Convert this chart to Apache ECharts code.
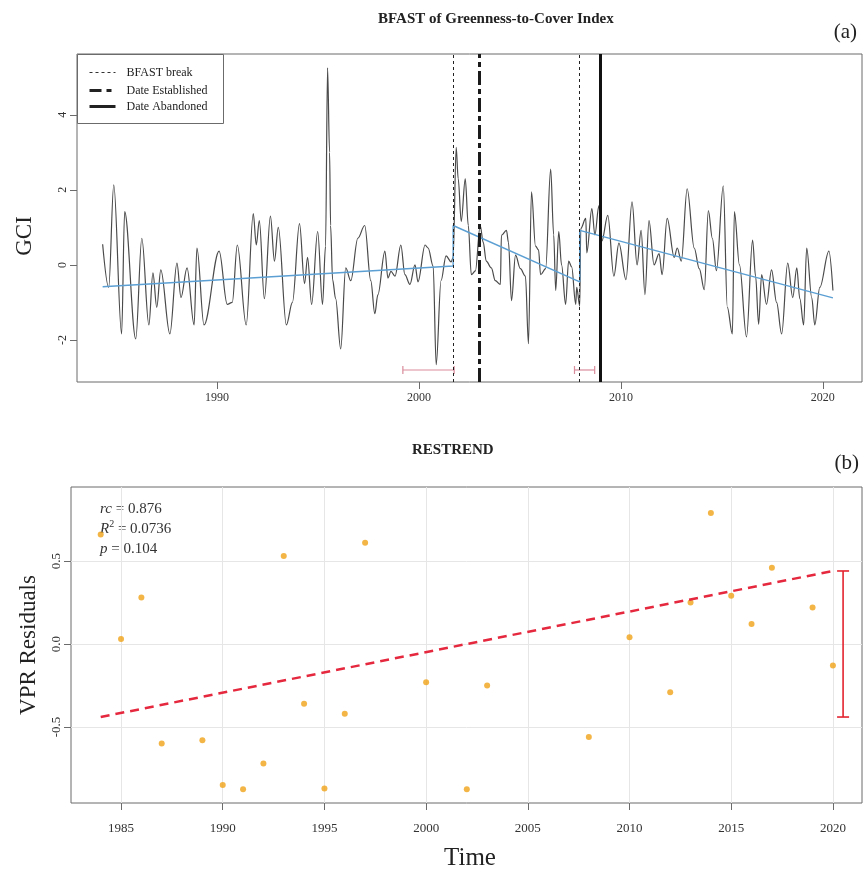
<!DOCTYPE html>
<html>
<head>
<meta charset="utf-8">
<script src="https://cdn.jsdelivr.net/npm/echarts@6/dist/echarts.min.js"></script>
<style>
  html, body { margin: 0; padding: 0; background: #ffffff; }
  #chart { width: 867px; height: 874px; }
</style>
</head>
<body>
<div id="chart"></div>
<script>
// ---- (a) BFAST of the Greenness-to-Cover Index ----
const gciTime = [
  1984.33, 1984.63, 1984.88, 1985.27, 1985.42, 1985.97, 1986.27, 1986.62, 1986.82, 1987.01,
  1987.21, 1987.66, 1988.01, 1988.21, 1988.51, 1988.86, 1989.00, 1989.35, 1990.10, 1990.50,
  1990.75, 1991.00, 1991.44, 1991.79, 1991.94, 1992.09, 1992.34, 1992.64, 1992.84, 1993.03,
  1993.43, 1993.73, 1994.08, 1994.33, 1994.48, 1994.68, 1994.98, 1995.22, 1995.37, 1995.47,
  1995.57, 1995.62, 1995.72, 1995.87, 1996.12, 1996.37, 1996.62, 1996.97, 1997.31, 1997.61,
  1997.81, 1997.96, 1998.31, 1998.46, 1998.61, 1998.81, 1999.10, 1999.30, 1999.55, 1999.80,
  1999.95, 2000.30, 2000.45, 2000.70, 2000.85, 2001.09, 2001.34, 2001.59, 2001.69, 2001.84,
  2001.94, 2002.09, 2002.29, 2002.44, 2002.59, 2002.79, 2003.03, 2003.18, 2003.33, 2003.58,
  2003.78, 2004.03, 2004.08, 2004.33, 2004.43, 2004.58, 2004.78, 2005.02, 2005.27, 2005.42,
  2005.57, 2005.77, 2005.92, 2006.02, 2006.27, 2006.52, 2006.67, 2006.77, 2006.92, 2007.06,
  2007.26, 2007.41, 2007.56, 2007.76, 2007.81, 2007.96, 2008.01, 2008.26, 2008.31, 2008.56,
  2008.71, 2008.91, 2009.05, 2009.35, 2009.65, 2009.90, 2010.25, 2010.55, 2010.80, 2011.00,
  2011.19, 2011.39, 2011.64, 2011.89, 2012.04, 2012.29, 2012.64, 2012.79, 2012.99, 2013.28,
  2013.63, 2013.88, 2014.13, 2014.33, 2014.53, 2014.73, 2015.07, 2015.27, 2015.52, 2015.62,
  2015.87, 2016.22, 2016.52, 2016.67, 2016.82, 2016.97, 2017.21, 2017.46, 2017.71, 2017.96,
  2018.26, 2018.51, 2018.71, 2018.86, 2019.05, 2019.20, 2019.45, 2019.60, 2019.85, 2020.30,
  2020.50
];
const gciValue = [
  0.55, -0.60, 2.13, -1.84, 1.42, -1.97, 0.71, -1.60, -0.21, -1.13,
  -0.13, -1.84, 0.05, -0.87, -0.08, -1.60, 0.45, -1.60, 0.37, -1.05,
  -1.00, 0.53, -1.60, 1.37, 0.53, 1.18, -0.90, 1.30, 0.10, 1.00,
  -1.60, -1.00, 1.10, -0.50, 0.20, -1.05, 0.89, -1.05, 0.50, 5.25,
  3.00, 1.05, -0.40, -0.90, -2.24, -0.08, -0.42, 0.71, 1.05, -0.42,
  -1.30, -0.80, 0.37, -0.35, -0.17, -0.30, 0.53, -0.26, -0.52, 0.00,
  -0.45, 0.53, 0.45, -0.03, -2.66, -0.42, 0.24, 0.08, 0.20, 3.13,
  2.30, 1.16, 2.29, 1.05, -0.26, -0.16, 1.05, 0.60, 0.10, -0.08,
  -0.42, -0.52, 0.79, 0.92, 0.60, -0.95, 0.26, -0.10, -0.30, -2.10,
  1.95, 0.50, 0.40, -0.26, -0.10, 2.55, 0.80, -0.68, 0.89, 0.00,
  -1.05, 0.10, -0.05, -1.05, -0.60, -1.10, 0.97, 1.24, 0.32, 1.50,
  0.80, 1.58, 0.63, 1.32, -0.30, 0.58, -0.39, 1.68, 0.00, 0.92,
  -0.79, 1.18, 0.00, 0.30, -0.26, 1.24, 0.20, 0.45, 0.10, 2.03,
  0.45, -0.10, -0.66, 1.45, 0.70, -0.15, 2.11, -1.13, -1.84, 1.42,
  0.00, -1.92, 0.66, -0.30, -1.58, -0.26, -1.05, -0.13, -1.00, -1.84,
  0.05, -0.87, -0.08, -0.90, -1.60, 0.45, -0.87, -1.60, -0.60, 0.37,
  -0.68
];
// piecewise trend fitted by BFAST (jumps at the two breaks)
const trendTime  = [1984.33, 2001.69, 2001.69, 2007.96, 2007.96, 2020.50];
const trendValue = [-0.58, -0.03, 1.05, -0.45, 0.92, -0.88];
const breakDates = [2001.69, 2007.96];
const breakLower = [1999.20, 2007.70];
const breakUpper = [2001.74, 2008.70];
const breakBandLevel = -2.80;
const dateEstablished = 2003.0;
const dateAbandoned = 2009.0;
const gciYTicks = [-2, 0, 2, 4];
const gciXTicks = [1990, 2000, 2010, 2020];

// ---- (b) RESTREND residuals ----
const residualYears = [
  1984, 1985, 1986, 1987, 1989, 1990, 1991, 1992, 1993, 1994, 1995, 1996, 1997,
  2000, 2002, 2003, 2008, 2010, 2012, 2013, 2014, 2015, 2016, 2017, 2019, 2020
];
const residualValues = [
  0.66, 0.03, 0.28, -0.60, -0.58, -0.85, -0.875, -0.72, 0.53, -0.36, -0.87, -0.42, 0.61,
  -0.23, -0.875, -0.25, -0.56, 0.04, -0.29, 0.25, 0.79, 0.29, 0.12, 0.46, 0.22, -0.13
];
const fitYears  = [1984, 2020];
const fitValues = [-0.44, 0.44];
const changeBarYear = 2020.5;
const changeBarLow = -0.44;
const changeBarHigh = 0.44;
const residualYTicks = [-0.5, 0, 0.5];
const residualXTicks = [1985, 1990, 1995, 2000, 2005, 2010, 2015, 2020];

const serif = '"Liberation Serif", "DejaVu Serif", serif';
const frame = '#6b6b6b';

const chart = echarts.init(document.getElementById('chart'), null, { renderer: 'canvas' });

function zipPairs(xs, ys) { return xs.map((x, i) => [x, ys[i]]); }

const axisCommonX = (grid, min, max, ticks, labelSize, margin, split) => ({
  type: 'value', gridIndex: grid, min: min, max: max,
  axisLine: { show: false, onZero: false },
  axisTick: { show: true, inside: false, length: 7, customValues: ticks, lineStyle: { color: frame, width: 1 } },
  axisLabel: { customValues: ticks, margin: margin, color: '#333', fontFamily: serif, fontSize: labelSize,
    formatter: v => String(v) },
  splitLine: { show: split, lineStyle: { color: '#e6e6e6', width: 1 } }
});

const option = {
  backgroundColor: '#ffffff',
  animation: false,
  grid: [
    { left: 77, top: 54, width: 785, height: 328, show: true, borderColor: frame, borderWidth: 1, backgroundColor: 'transparent' },
    { left: 71, top: 487, width: 791, height: 316, show: true, borderColor: frame, borderWidth: 1, backgroundColor: 'transparent' }
  ],
  xAxis: [
    axisCommonX(0, 1983.06, 2021.94, gciXTicks, 12, 10, false),
    axisCommonX(1, 1982.54, 2021.43, residualXTicks, 13, 19, true)
  ],
  yAxis: [
    {
      type: 'value', gridIndex: 0, min: -3.12, max: 5.62,
      axisLine: { show: false, onZero: false },
      axisTick: { show: true, inside: false, length: 7, customValues: gciYTicks, lineStyle: { color: frame } },
      axisLabel: { customValues: gciYTicks, rotate: 90, margin: 8, color: '#333', fontFamily: serif, fontSize: 12 },
      splitLine: { show: false }
    },
    {
      type: 'value', gridIndex: 1, min: -0.958, max: 0.946,
      axisLine: { show: false, onZero: false },
      axisTick: { show: true, inside: false, length: 7, customValues: residualYTicks, lineStyle: { color: frame } },
      axisLabel: { customValues: residualYTicks, rotate: 90, margin: 8, color: '#333', fontFamily: serif, fontSize: 13,
        formatter: v => v.toFixed(1) },
      splitLine: { show: true, lineStyle: { color: '#e6e6e6', width: 1 } }
    }
  ],
  series: [
    {
      name: 'GCI', type: 'line', xAxisIndex: 0, yAxisIndex: 0,
      data: zipPairs(gciTime, gciValue),
      showSymbol: false, smooth: 0.35, smoothMonotone: 'x',
      lineStyle: { color: '#4a4a4a', width: 1.2 },
      markLine: {
        silent: true, symbol: 'none', label: { show: false },
        data: [
          { xAxis: breakDates[0], lineStyle: { color: '#222', width: 1, type: [3, 3] } },
          { xAxis: breakDates[1], lineStyle: { color: '#222', width: 1, type: [3, 3] } },
          { xAxis: dateEstablished, lineStyle: { color: '#1a1a1a', width: 3, type: [14, 4, 5, 4] } },
          { xAxis: dateAbandoned, lineStyle: { color: '#111', width: 3, type: 'solid' } }
        ]
      }
    },
    {
      name: 'Trend', type: 'line', xAxisIndex: 0, yAxisIndex: 0,
      data: zipPairs(trendTime, trendValue),
      showSymbol: false,
      lineStyle: { color: '#5b9fd3', width: 1.4 }
    },
    {
      name: 'Break interval', type: 'custom', xAxisIndex: 0, yAxisIndex: 0,
      data: breakLower.map((lo, i) => [lo, breakUpper[i], breakBandLevel]),
      renderItem: (params, api) => {
        const a = api.coord([api.value(0), api.value(2)]);
        const b = api.coord([api.value(1), api.value(2)]);
        const st = { stroke: '#d98c9c', lineWidth: 1.2 };
        return {
          type: 'group',
          children: [
            { type: 'line', shape: { x1: a[0], y1: a[1], x2: b[0], y2: b[1] }, style: st },
            { type: 'line', shape: { x1: a[0], y1: a[1] - 4, x2: a[0], y2: a[1] + 4 }, style: st },
            { type: 'line', shape: { x1: b[0], y1: b[1] - 4, x2: b[0], y2: b[1] + 4 }, style: st }
          ]
        };
      }
    },
    {
      name: 'Residuals', type: 'scatter', xAxisIndex: 1, yAxisIndex: 1,
      data: zipPairs(residualYears, residualValues),
      symbol: 'circle', symbolSize: 6,
      itemStyle: { color: '#f0a216' }
    },
    {
      name: 'Fit', type: 'line', xAxisIndex: 1, yAxisIndex: 1,
      data: zipPairs(fitYears, fitValues),
      showSymbol: false,
      lineStyle: { color: '#e5283e', width: 2.5, type: [9, 6] }
    },
    {
      name: 'Change', type: 'custom', xAxisIndex: 1, yAxisIndex: 1,
      data: [[changeBarYear, changeBarLow, changeBarHigh]],
      renderItem: (params, api) => {
        const lo = api.coord([api.value(0), api.value(1)]);
        const hi = api.coord([api.value(0), api.value(2)]);
        const st = { stroke: '#e3242f', lineWidth: 1.6 };
        return {
          type: 'group',
          children: [
            { type: 'line', shape: { x1: lo[0], y1: lo[1], x2: hi[0], y2: hi[1] }, style: st },
            { type: 'line', shape: { x1: lo[0] - 6, y1: lo[1], x2: lo[0] + 6, y2: lo[1] }, style: st },
            { type: 'line', shape: { x1: hi[0] - 6, y1: hi[1], x2: hi[0] + 6, y2: hi[1] }, style: st }
          ]
        };
      }
    }
  ],
  graphic: [
    // titles and panel tags
    { type: 'text', left: 378, top: 12, style: { text: 'BFAST of Greenness-to-Cover Index', font: 'bold 15px ' + serif, fill: '#222' } },
    { type: 'text', right: 10, top: 22, style: { text: '(a)', font: '21px ' + serif, fill: '#222' } },
    { type: 'text', left: 412, top: 443, style: { text: 'RESTREND', font: 'bold 15px ' + serif, fill: '#222' } },
    { type: 'text', right: 8, top: 453, style: { text: '(b)', font: '21px ' + serif, fill: '#222' } },
    // axis titles
    { type: 'text', x: 13, y: 236, rotation: Math.PI / 2, style: { text: 'GCI', font: '23px ' + serif, fill: '#222', align: 'center', verticalAlign: 'top' } },
    { type: 'text', x: 17, y: 645, rotation: Math.PI / 2, style: { text: 'VPR Residuals', font: '23px ' + serif, fill: '#222', align: 'center', verticalAlign: 'top' } },
    { type: 'text', x: 470, y: 858, style: { text: 'Time', font: '25px ' + serif, fill: '#222', align: 'center', verticalAlign: 'middle' } },
    // statistics
    {
      type: 'text', x: 100, y: 499,
      style: {
        text: '{i|rc} = 0.876\n{i|R}{s|2} = 0.0736\n{i|p} = 0.104',
        font: '15px ' + serif, fill: '#333', lineHeight: 20,
        rich: {
          i: { font: 'italic 15px ' + serif, fill: '#333' },
          s: { font: '10px ' + serif, fill: '#333', verticalAlign: 'top', lineHeight: 12 }
        }
      }
    },
    // legend of panel (a)
    {
      type: 'group', left: 77, top: 54,
      children: [
        { type: 'rect', shape: { x: 0, y: 0, width: 146, height: 69 }, style: { fill: '#fff', stroke: frame, lineWidth: 1 } },
        { type: 'line', shape: { x1: 12, y1: 18, x2: 38, y2: 18 }, style: { stroke: '#333', lineWidth: 1, lineDash: [3, 3] } },
        { type: 'line', shape: { x1: 12, y1: 36, x2: 38, y2: 36 }, style: { stroke: '#222', lineWidth: 3, lineDash: [12, 5, 5, 5] } },
        { type: 'line', shape: { x1: 12, y1: 52, x2: 38, y2: 52 }, style: { stroke: '#222', lineWidth: 3 } },
        { type: 'text', x: 49, y: 18, style: { text: 'BFAST break', font: '12px ' + serif, fill: '#222', verticalAlign: 'middle' } },
        { type: 'text', x: 49, y: 36, style: { text: 'Date Established', font: '12px ' + serif, fill: '#222', verticalAlign: 'middle' } },
        { type: 'text', x: 49, y: 52, style: { text: 'Date Abandoned', font: '12px ' + serif, fill: '#222', verticalAlign: 'middle' } }
      ]
    }
  ]
};

chart.setOption(option);
</script>
</body>
</html>
